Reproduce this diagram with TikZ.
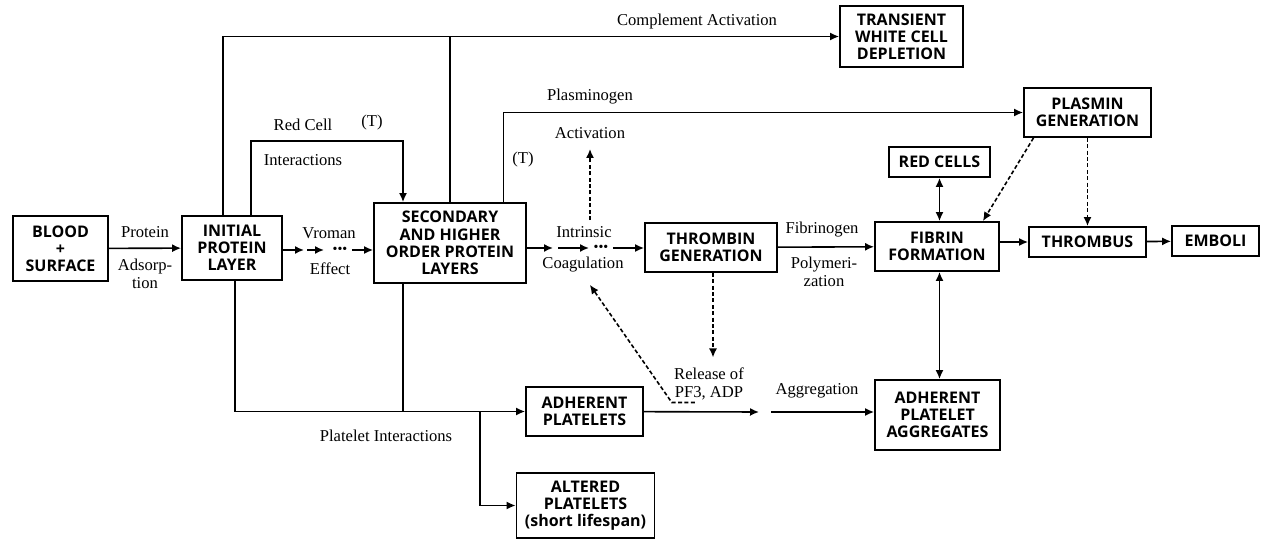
\documentclass[tikz,border=0pt]{standalone}
\usepackage{fontspec}
\setmainfont{Liberation Serif}
\newfontfamily\boxfont{Open Sans}
\usetikzlibrary{arrows.meta}

\begin{document}
\begin{tikzpicture}[x=0.5pt,y=-0.5pt,
    box/.style={draw,line width=0.9pt,align=center,inner sep=0pt,
      font=\boxfont\bfseries\fontsize{8}{8.6}\selectfont},
    lbl/.style={inner sep=1pt,align=center,font=\fontsize{8.3}{9}\selectfont},
    dots/.style={inner sep=0pt,font=\fontsize{7}{7}\selectfont},
    arr/.style={line width=0.8pt,-{Latex[length=4.5pt,width=4pt]}},
    darr/.style={arr,dash pattern=on 2pt off 1.2pt},
    dbl/.style={line width=0.8pt,{Latex[length=4.5pt,width=4pt]}-{Latex[length=4.5pt,width=4pt]}}]
        \useasboundingbox (0,0) rectangle (1269,539);

        \node[box,minimum width=47.5pt,minimum height=32.5pt] (blood) at (60.5,248.5) {BLOOD\\+\\SURFACE};
        \node[box,minimum width=50pt,minimum height=32pt] (initial) at (232,248) {INITIAL\\PROTEIN\\LAYER};
        \node[box,minimum width=76pt,minimum height=40pt] (second) at (450,243) {SECONDARY\\AND HIGHER\\ORDER PROTEIN\\LAYERS};
        \node[box,minimum width=66pt,minimum height=24.5pt] (thrombin) at (711,247.5) {THROMBIN\\GENERATION};
        \node[box,minimum width=62pt,minimum height=24.5pt] (fibrin) at (937,246.5) {FIBRIN\\FORMATION};
        \node[box,minimum width=58.5pt,minimum height=15pt] (thrombus) at (1087.5,242) {THROMBUS};
        \node[box,minimum width=43.5pt,minimum height=15pt] (emboli) at (1215.5,241) {EMBOLI};
        \node[box,minimum width=50.5pt,minimum height=15pt] (redcells) at (939.5,162) {RED CELLS};
        \node[box,minimum width=63.5pt,minimum height=24.5pt] (plasmin) at (1087.5,112.5) {PLASMIN\\GENERATION};
        \node[box,minimum width=61.5pt,minimum height=30.5pt] (transient) at (901.5,36.5) {TRANSIENT\\WHITE CELL\\DEPLETION};
        \node[box,minimum width=58.5pt,minimum height=24.5pt] (adhplt) at (584.5,411.5) {ADHERENT\\PLATELETS};
        \node[box,minimum width=62.5pt,minimum height=35pt] (aggr) at (937.5,415) {ADHERENT\\PLATELET\\AGGREGATES};
        \node[box,minimum width=69pt,minimum height=32.5pt] (altered) at (585.5,505.5) {ALTERED\\PLATELETS\\(short lifespan)};

        \node[lbl] (protein) at (145,232) {Protein};
        \node[lbl] (adsorp) at (145,274) {Adsorp-\\tion};
        \node[lbl] (vroman) at (329,233) {Vroman};
        \node[lbl] (effect) at (330,269) {Effect};
        \node[lbl] (redcell) at (303,125) {Red Cell};
        \node[lbl] (tred) at (372,123) {(T)};
        \node[lbl] (inter) at (303,160) {Interactions};
        \node[lbl] (compl) at (697,22) {Complement Activation};
        \node[lbl] (plasmino) at (590,97) {Plasminogen};
        \node[lbl] (activ) at (590,133) {Activation};
        \node[lbl] (tplas) at (523,160) {(T)};
        \node[lbl] (intrinsic) at (584,232) {Intrinsic};
        \node[lbl] (coag) at (583,265) {Coagulation};
        \node[lbl] (fibrinogen) at (822,230) {Fibrinogen};
        \node[lbl] (polym) at (824,272) {Polymeri-\\zation};
        \node[lbl] (release) at (709,384) {Release of\\PF3, ADP};
        \node[lbl] (aggrlbl) at (817,391) {Aggregation};
        \node[lbl] (pltint) at (386,436) {Platelet Interactions};

        \node[dots] (vdots) at (340,250) {\textbullet\textbullet\textbullet};
        \node[dots] (cdots) at (601,248) {\textbullet\textbullet\textbullet};
        \coordinate (v1) at (304,250);
        \coordinate (v2) at (307,250);
        \coordinate (v3) at (324,250);
        \coordinate (c1) at (553,248);
        \coordinate (c2) at (558,248);
        \coordinate (c3) at (589,248);
        \coordinate (rcbend) at (403,141);
        \coordinate (agtip) at (759,412);
        \coordinate (agstart) at (771,412);
        \coordinate (br) at (480,412);

        \draw[arr] (blood) -- (initial);
        \draw[arr] (initial.east |- v1) -- (v1);
        \draw[arr] (v2) -- (v3);
        \draw[arr,shorten <=2pt] (vdots.east) -- (vdots.east -| second.west);
        \draw[arr] (second.east |- c1) -- (c1);
        \draw[arr] (c2) -- (c3);
        \draw[arr,shorten <=2pt] (cdots.east) -- (thrombin.west |- cdots);

        \draw[arr] ([xshift=-4.5pt]initial.north) |- (transient.west);
        \draw[line width=0.8pt] (second.north) -- (second.north |- transient.west);
        \draw[arr] ([xshift=9.5pt]initial.north) |- (rcbend) -- (second.north -| rcbend);
        \draw[arr] ([xshift=26.75pt]second.north) |- (plasmin.west);
        \draw[darr,shorten <=2pt,shorten >=4pt] (intrinsic.north -| activ) -- (activ.south);

        \draw[arr] (thrombin) -- (fibrin);
        \draw[darr,shorten >=4pt] ([xshift=1pt]thrombin.south) -- ([xshift=1pt]thrombin.south |- release.north);
        \draw[darr,shorten >=6pt] ([xshift=11.5pt]release.south west) -- (release.south west) -- (coag.south);

        \draw[arr] (adhplt) -- (agtip);
        \draw[arr] (agstart) -- (aggr.west |- agstart);
        \draw[dbl] (redcells.south) -- (redcells.south |- fibrin.north);
        \draw[dbl] (fibrin.south -| redcells) -- (aggr.north -| redcells);
        \draw[darr] ([xshift=-27pt]plasmin.south) -- ([xshift=-8.5pt]fibrin.north east);
        \draw[darr] (plasmin) -- (thrombus);
        \draw[arr] (fibrin.east |- thrombus) -- (thrombus.west);
        \draw[arr] (thrombus) -- (emboli);

        \draw[arr] ([xshift=1.5pt]initial.south) |- (adhplt.west);
        \draw[line width=0.8pt] (second.south -| rcbend) -- (rcbend |- adhplt.west);
        \draw[arr] (br |- adhplt.west) |- (altered.west);
    \end{tikzpicture}
\end{document}
